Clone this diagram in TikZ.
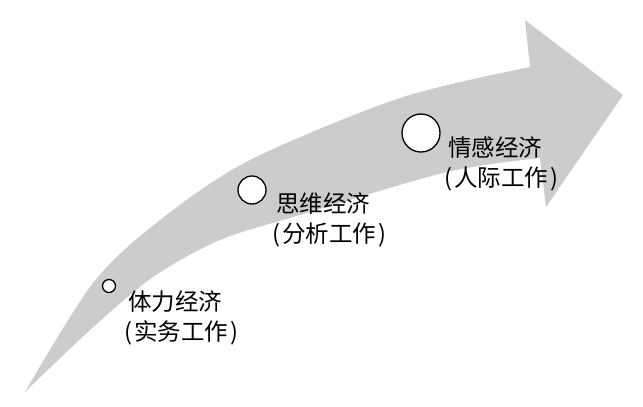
\documentclass[tikz,border=0pt]{standalone}
\usepackage{fontspec}
\setmainfont{Noto Sans CJK SC}
\definecolor{arrowgray}{HTML}{CCCCCC}
\newcommand{\plab}[1]{\hspace*{-4pt}(\kern2pt#1\kern2pt)}
\begin{document}
\begin{tikzpicture}[x=1pt,y=-1pt,
  dot/.style={circle,draw=black,fill=white,line width=1.3pt,inner sep=0pt},
  lbl/.style={anchor=north west,inner sep=0pt,align=left,font=\fontsize{23.5pt}{30pt}\selectfont}]
\useasboundingbox (0,0) rectangle (643,407);
\fill[arrowgray] plot[smooth] coordinates {(25,392) (93,283) (160,220) (250,160) (400,98) (530,67)}
  -- (525,20) -- (623,95) -- (546,207) -- (540,158)
  -- plot[smooth] coordinates {(540,158) (447,172) (300,215) (220,240) (153,277) (90,330) (25,392)} -- cycle;
\node[dot,minimum size=13pt] (c1) at (109,286) {};
\node[dot,minimum size=28pt] (c2) at (252,190) {};
\node[dot,minimum size=38pt] (c3) at (421,133) {};
\node[lbl] (t1) at (128,290) {体力经济\\\plab{实务工作}};
\node[lbl] (t2) at (276,192) {思维经济\\\plab{分析工作}};
\node[lbl] (t3) at (448,136) {情感经济\\\plab{人际工作}};
\end{tikzpicture}
\end{document}
